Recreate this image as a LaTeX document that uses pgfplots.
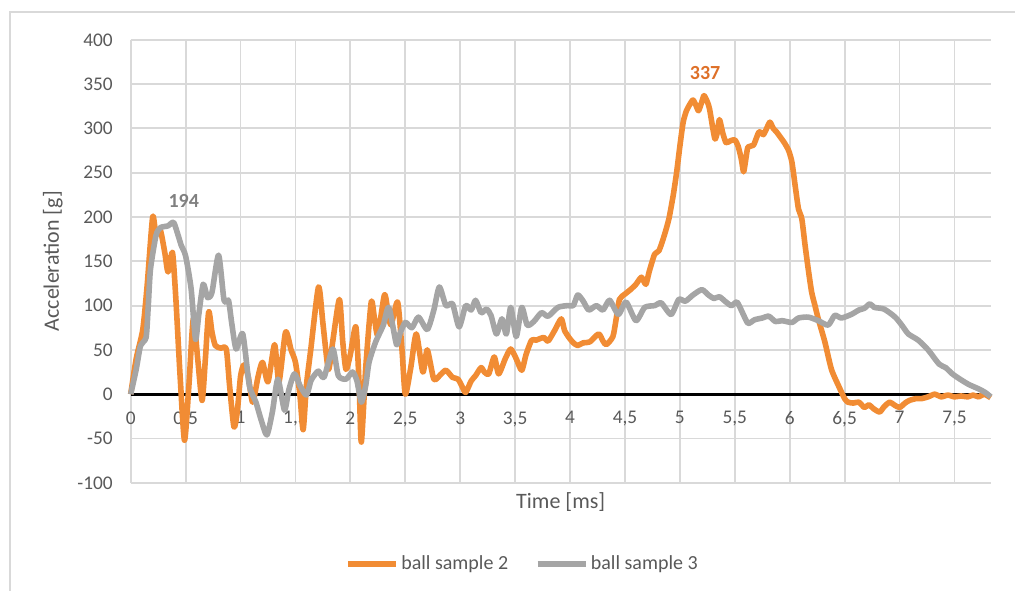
\documentclass[border=0pt]{standalone}
\usepackage{pgfplots}
\pgfplotsset{compat=1.18}
\usepackage{fontspec}
\setmainfont{Carlito}
\definecolor{sorange}{RGB}{241,140,52}
\definecolor{sgray}{RGB}{165,165,165}
\definecolor{lblorange}{RGB}{222,112,40}
\definecolor{lblgray}{RGB}{128,128,128}
\definecolor{gridgray}{RGB}{217,217,217}
\definecolor{txtgray}{RGB}{89,89,89}

\begin{document}
\begin{tikzpicture}[x=0.75pt,y=0.75pt]
\useasboundingbox (0,0) rectangle (1015,590);
% chart frame
\draw[gridgray, line width=1.5pt] (10,-5) -- (10,578) -- (1020,578);
\begin{axis}[
    at={(119,121)}, anchor=south west,
    scale only axis, width=645pt, height=332.25pt,
    xmin=0, xmax=7.83, ymin=-100, ymax=400,
    xtick={0,0.5,...,7.5},
    xticklabels={0,{0,5},1,{1,5},2,{2,5},3,{3,5},4,{4,5},5,{5,5},6,{6,5},7,{7,5}},
    ytick={-100,-50,...,400},
    yticklabels={-100,-50,0,50,100,150,200,250,300,350,400},
    grid=major, grid style={draw=gridgray, line width=1.4pt},
    axis line style={draw=none}, major tick length=0pt,
    tick label style={font=\fontsize{14.5}{17}\selectfont, text=txtgray},
    xticklabel style={yshift=57pt},
    yticklabel style={xshift=-10pt},
    xlabel={Time [ms]}, ylabel={Acceleration [g]},
    every axis x label/.style={at={(axis description cs:0.5,-0.043)}, anchor=center,
        font=\fontsize{16.5}{19}\selectfont, text=txtgray},
    every axis y label/.style={at={(axis description cs:-0.0907,0.5)}, anchor=center, rotate=90,
        font=\fontsize{16.5}{19}\selectfont, text=txtgray},
    clip=false,
    legend columns=2,
    legend style={draw=none, fill=none, at={(0.456,-0.183)}, anchor=center,
        font=\fontsize{15}{18}\selectfont, text=txtgray,
        /tikz/every even column/.append style={column sep=18pt}},
    legend image code/.code={\draw[#1, line width=4pt] (0pt,0pt) -- (36pt,0pt);},
]
% zero line
\addplot[black, line width=2.2pt, forget plot] coordinates {(0,0) (7.83,0)};

% ball sample 2
\addplot[sorange, line width=4.2pt, smooth, tension=0.4, line join=round] coordinates {
(0,0) (0.05,40) (0.11,73) (0.15,123) (0.2,200) (0.23,180) (0.27,185) (0.31,160)
(0.34,138) (0.38,160) (0.41,110) (0.45,20) (0.49,-52) (0.53,10) (0.57,85) (0.61,40)
(0.65,-7) (0.68,40) (0.71,93) (0.74,70) (0.77,55) (0.82,52) (0.87,51) (0.9,10)
(0.94,-37) (0.97,-20) (1.0,20) (1.03,33) (1.07,20) (1.11,-9) (1.16,20) (1.2,36)
(1.25,14) (1.31,56) (1.35,14) (1.41,70) (1.46,50) (1.5,36) (1.54,0) (1.57,-40)
(1.6,10) (1.64,51) (1.71,121) (1.75,80) (1.8,28) (1.84,60) (1.9,107) (1.93,60)
(1.96,28) (2.0,45) (2.05,76) (2.08,10) (2.1,-54) (2.14,30) (2.19,104) (2.22,85)
(2.25,67) (2.31,112) (2.34,95) (2.37,78) (2.43,104) (2.47,50) (2.5,0) (2.55,30)
(2.6,68) (2.66,25) (2.7,50) (2.76,17) (2.82,22) (2.87,27) (2.93,19) (2.98,17)
(3.02,8) (3.05,2) (3.1,15) (3.14,21) (3.19,30) (3.22,25) (3.26,23) (3.31,42)
(3.35,23) (3.41,40) (3.46,51) (3.51,40) (3.56,27) (3.6,45) (3.65,61) (3.69,61)
(3.76,64) (3.8,60) (3.86,72) (3.92,85) (3.95,72) (3.99,64) (4.03,58) (4.07,55)
(4.12,58) (4.18,59) (4.26,68) (4.3,60) (4.33,56) (4.39,65) (4.42,85) (4.45,107)
(4.5,113) (4.55,118) (4.6,124) (4.65,132) (4.69,124) (4.72,138) (4.77,158) (4.81,162)
(4.86,180) (4.9,198) (4.94,225) (4.97,250) (5.0,280) (5.03,307) (5.06,320) (5.09,327)
(5.12,332) (5.15,325) (5.17,320) (5.2,330) (5.22,337) (5.25,330) (5.27,322) (5.3,300)
(5.32,288) (5.34,295) (5.36,310) (5.39,295) (5.42,284) (5.46,286) (5.5,287) (5.53,280)
(5.56,265) (5.58,251) (5.6,265) (5.62,279) (5.67,281) (5.72,296) (5.76,293) (5.79,300)
(5.82,307) (5.85,300) (5.88,296) (5.95,284) (5.99,275) (6.02,262) (6.05,235) (6.08,209)
(6.11,198) (6.14,168) (6.17,140) (6.2,115) (6.23,100) (6.26,85) (6.32,59) (6.38,28)
(6.45,8) (6.5,-5) (6.53,-9) (6.58,-10) (6.63,-9) (6.68,-15) (6.72,-12) (6.77,-17)
(6.82,-20) (6.86,-14) (6.91,-9) (6.95,-12) (7.0,-15) (7.05,-10) (7.09,-7) (7.15,-5)
(7.2,-5) (7.26,-3) (7.32,0) (7.38,-3) (7.44,-1) (7.5,-3) (7.56,-2) (7.62,-3)
(7.67,-1) (7.72,-3) (7.77,0) (7.83,-4)
};
\addlegendentry{ball sample 2}

% ball sample 3
\addplot[sgray, line width=4.2pt, smooth, tension=0.4, line join=round] coordinates {
(0,0) (0.05,28) (0.09,55) (0.14,64) (0.16,100) (0.18,141) (0.23,179) (0.27,188)
(0.34,190) (0.39,194) (0.43,180) (0.46,168) (0.5,156) (0.55,119) (0.59,62) (0.62,90)
(0.66,124) (0.7,109) (0.74,115) (0.8,157) (0.85,106) (0.89,106) (0.92,80) (0.96,51)
(1.02,68) (1.08,10) (1.14,-9) (1.19,-30) (1.24,-46) (1.29,-20) (1.34,17) (1.4,-18)
(1.44,5) (1.49,23) (1.54,10) (1.6,-1) (1.64,15) (1.67,21) (1.71,26) (1.76,19)
(1.84,51) (1.89,21) (1.96,17) (2.02,25) (2.06,15) (2.1,-9) (2.14,10) (2.17,36)
(2.23,59) (2.3,78) (2.35,98) (2.42,56) (2.45,68) (2.5,81) (2.56,75) (2.62,87)
(2.7,73) (2.76,95) (2.81,121) (2.87,100) (2.93,102) (2.99,76) (3.05,100) (3.1,95)
(3.14,106) (3.19,92) (3.24,96) (3.28,89) (3.33,68) (3.38,85) (3.42,68) (3.46,98)
(3.51,65) (3.56,98) (3.61,78) (3.67,82) (3.74,92) (3.8,88) (3.89,98) (3.98,100)
(4.03,100) (4.07,112) (4.12,105) (4.17,95) (4.24,100) (4.3,95) (4.36,106) (4.44,90)
(4.51,104) (4.6,83) (4.68,98) (4.77,100) (4.83,103) (4.92,90) (4.99,107) (5.05,105)
(5.12,112) (5.2,118) (5.26,112) (5.31,108) (5.36,110) (5.42,104) (5.47,100) (5.52,104)
(5.57,92) (5.62,80) (5.68,84) (5.75,86) (5.81,88) (5.87,82) (5.93,83) (6.02,81)
(6.08,86) (6.17,87) (6.26,83) (6.35,78) (6.41,89) (6.47,86) (6.56,90) (6.63,95)
(6.68,97) (6.73,102) (6.77,98) (6.86,96) (6.96,87) (7.02,78) (7.08,68) (7.17,61)
(7.26,50) (7.36,34) (7.42,30) (7.48,23) (7.55,17) (7.63,11) (7.72,6) (7.78,2)
(7.83,-3)
};
\addlegendentry{ball sample 3}

% peak labels
\node[font=\bfseries\fontsize{15}{18}\selectfont, text=lblgray] at (axis cs:0.483,218) {194};
\node[font=\bfseries\fontsize{15}{18}\selectfont, text=lblorange] at (axis cs:5.23,362) {337};
\end{axis}
\end{tikzpicture}
\end{document}
